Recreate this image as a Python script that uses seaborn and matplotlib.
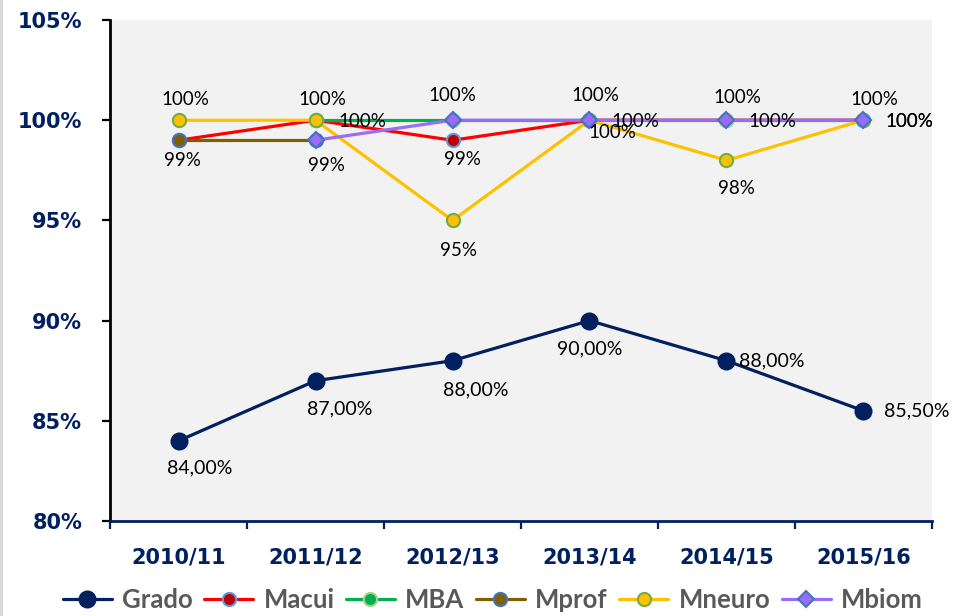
import numpy as np
import pandas as pd
import matplotlib.pyplot as plt
import seaborn as sns

# data (percent)
years = ["2010/11", "2011/12", "2012/13", "2013/14", "2014/15", "2015/16"]
grado = [84.0, 87.0, 88.0, 90.0, 88.0, 85.5]
macui = [99, 100, 99, 100, 100, 100]
mba = [np.nan, 100, 100, 100, 100, 100]
mprof = [99, 99, np.nan, np.nan, np.nan, np.nan]
mneuro = [100, 100, 95, 100, 98, 100]
mbiom = [np.nan, 99, 100, 100, 100, 100]

series = {
    "Grado": grado,
    "Macui": macui,
    "MBA": mba,
    "Mprof": mprof,
    "Mneuro": mneuro,
    "Mbiom": mbiom,
}

# line colour, marker, marker face, marker edge, marker size
styles = {
    "Grado": ("#002060", "o", "#002060", "#002060", 11.5),
    "Macui": ("#ff0000", "o", "#c00000", "#5b9bd5", 9.5),
    "MBA": ("#00b050", "o", "#00b050", "#a9d18e", 9.5),
    "Mprof": ("#7f6000", "o", "#7f6000", "#4472c4", 9.5),
    "Mneuro": ("#ffc000", "o", "#ffc000", "#70ad47", 9.5),
    "Mbiom": ("#9b6cf5", "D", "#9b6cf5", "#4472c4", 8.0),
}

# data labels: series, year index, offset in pixels from the point (dx, dy)
label_spots = [
    ("Grado", 0, (21, -27)), ("Grado", 1, (24, -28)), ("Grado", 2, (23, -29)),
    ("Grado", 3, (0, -28)), ("Grado", 4, (45, 0)), ("Grado", 5, (53, 0)),
    ("Macui", 0, (4, -20)), ("Macui", 2, (10, -19)), ("Macui", 5, (46, -1)),
    ("MBA", 1, (47, -1)), ("MBA", 3, (46, -1)), ("MBA", 4, (46, -1)), ("MBA", 5, (46, -1)),
    ("Mneuro", 0, (7, 21)), ("Mneuro", 1, (7, 21)), ("Mneuro", 2, (6, -30)),
    ("Mneuro", 3, (23, -12)), ("Mneuro", 4, (10, -28)),
    ("Mbiom", 1, (11, -25)), ("Mbiom", 2, (0, 25)), ("Mbiom", 3, (6, 25)),
    ("Mbiom", 4, (11, 23)), ("Mbiom", 5, (11, 21)),
]

navy = "#002060"

rows = []
for name, vals in series.items():
    for i, v in enumerate(vals):
        rows.append({"serie": name, "pos": i, "valor": v})
df = pd.DataFrame(rows)

sns.set_style("white")
plt.rcParams["font.family"] = ["DejaVu Sans"]

fig = plt.figure(figsize=(9.55, 6.16), dpi=100)
ax = fig.add_axes([0.1152, 0.1542, 0.8607, 0.8133])
ax.set_facecolor("#f2f2f2")

for name in series:
    color, mk, face, edge, ms = styles[name]
    sub = df[df["serie"] == name].dropna()
    sns.lineplot(
        data=sub, x="pos", y="valor", ax=ax, color=color, linewidth=2.3,
        marker=mk, markersize=ms, markerfacecolor=face, markeredgecolor=edge,
        markeredgewidth=1.5, label=name, zorder=3,
    )

for name, i, (dx, dy) in label_spots:
    v = series[name][i]
    if name == "Grado":
        txt = f"{v:.2f}%".replace(".", ",")
        size = 14
    else:
        txt = f"{v:.0f}%"
        size = 13.5
    ax.annotate(
        txt, (i, v), xytext=(dx, dy), textcoords="offset pixels",
        ha="center", va="center", fontsize=size, family=["Lato", "DejaVu Sans"],
        color="black", annotation_clip=False, zorder=5,
    )

ax.set_xlim(-0.5, 5.5)
ax.set_ylim(80, 105)
ax.set_yticks([80, 85, 90, 95, 100, 105])
ax.set_yticklabels([f"{t}%" for t in [80, 85, 90, 95, 100, 105]])
ax.set_xticks(range(len(years)))
ax.set_xticklabels(years)
ax.set_xticks(np.arange(-0.5, 6, 1), minor=True)
ax.set_xlabel("")
ax.set_ylabel("")

for lab in ax.get_xticklabels() + ax.get_yticklabels():
    lab.set_fontweight("bold")
    lab.set_fontsize(15)
    lab.set_color(navy)

ax.tick_params(axis="y", direction="out", length=6, width=1.6, color="black", pad=14, left=True)
ax.tick_params(axis="x", which="major", length=0, pad=19, bottom=True)
ax.tick_params(axis="x", which="minor", direction="out", length=6, width=1.6, color=navy, bottom=True)

sns.despine(ax=ax, top=True, right=True)
ax.spines["left"].set_color("black")
ax.spines["left"].set_linewidth(2)
ax.spines["bottom"].set_color(navy)
ax.spines["bottom"].set_linewidth(2)

handles, labels = ax.get_legend_handles_labels()
ax.legend(
    handles, labels, loc="center", bbox_to_anchor=(0.516, 0.026), bbox_transform=fig.transFigure,
    ncol=6, frameon=False, handlelength=1.9, handletextpad=0.4, columnspacing=0.45,
    prop={"family": ["Lato", "DejaVu Sans"], "weight": "bold", "size": 18.5},
    labelcolor="#595959",
)

fig.add_artist(plt.Line2D([0.0015, 0.0015], [0, 1], color="#d9d9d9", linewidth=3))

fig.savefig("out.png", dpi=100)
